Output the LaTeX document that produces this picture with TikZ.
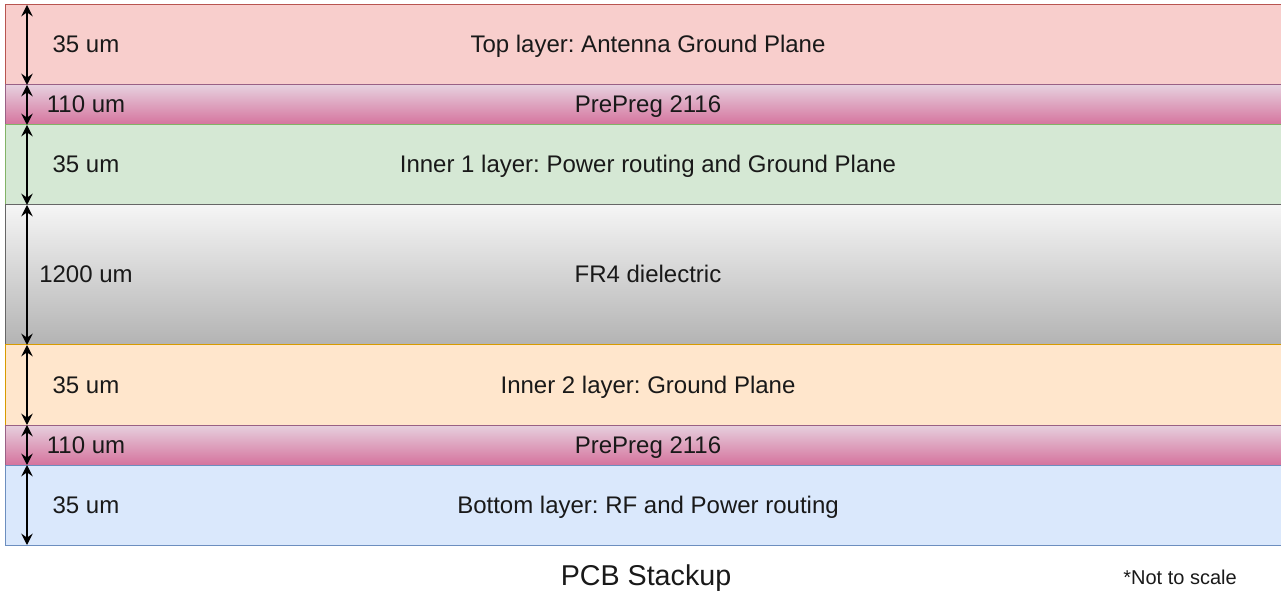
\documentclass[tikz,border=0pt]{standalone}
\usepackage{fontspec}
\setmainfont{Liberation Sans}
\usepackage{tikz}
\usetikzlibrary{arrows.meta,positioning}
\usepackage{xcolor}
\definecolor{cuTopF}{HTML}{F8CECC}
\definecolor{cuTopD}{HTML}{B85450}
\definecolor{ppTop}{HTML}{E6D0DE}
\definecolor{ppBot}{HTML}{D5739D}
\definecolor{ppD}{HTML}{996185}
\definecolor{inOneF}{HTML}{D5E8D4}
\definecolor{inOneD}{HTML}{82B366}
\definecolor{frTop}{HTML}{F5F5F5}
\definecolor{frBot}{HTML}{B3B3B3}
\definecolor{frD}{HTML}{666666}
\definecolor{inTwoF}{HTML}{FFE6CC}
\definecolor{inTwoD}{HTML}{D79B00}
\definecolor{cuBotF}{HTML}{DAE8FC}
\definecolor{cuBotD}{HTML}{6C8EBF}
\frenchspacing

\begin{document}
\begin{tikzpicture}[
    x=0.75pt, y=-0.75pt,
    layer/.style={rectangle, anchor=north west, minimum width=964.5pt,
                  inner sep=0pt, outer sep=0pt, line width=0.75pt,
                  text height=12.9pt, text depth=0.9pt,
                  font=\fontsize{18}{20}\selectfont, text=black!90},
    cutop/.style={fill=cuTopF, draw=cuTopD},
    prepreg/.style={top color=ppTop, bottom color=ppBot, draw=ppD},
    innerone/.style={fill=inOneF, draw=inOneD},
    core/.style={top color=frTop, bottom color=frBot, draw=frD},
    innertwo/.style={fill=inTwoF, draw=inTwoD},
    cubot/.style={fill=cuBotF, draw=cuBotD},
    thk/.style={font=\fontsize{18}{20}\selectfont, text=black!90, inner sep=0pt,
                text height=12.9pt, text depth=0.9pt},
    dim/.style={{Stealth[length=8.5pt,width=8.5pt,inset=3pt]}-{Stealth[length=8.5pt,width=8.5pt,inset=3pt]},
                line width=1.1pt, black},
]
\useasboundingbox (0,0) rectangle (1281,591);

% Stack of layers, top to bottom.
\foreach \nm/\ytop/\hgt/\sty/\lab/\tval in {
  top/5/60/cutop/{Top layer: Antenna Ground Plane}/{35 um},
  ppa/85/30/prepreg/{PrePreg 2116}/{110 um},
  ina/125/60/innerone/{Inner 1 layer: Power routing and Ground Plane}/{35 um},
  fr/205/105/core/{FR4 dielectric}/{1200 um},
  inb/345/60/innertwo/{Inner 2 layer: Ground Plane}/{35 um},
  ppb/425/30/prepreg/{PrePreg 2116}/{110 um},
  bot/465/60/cubot/{Bottom layer: RF and Power routing}/{35 um}} {
  \node[layer, \sty, minimum height=\hgt pt] (\nm) at (5,\ytop) {\lab};
  \node[thk] (\nm-t) at ([xshift=60.75pt]\nm.west) {\tval};
}

% Thickness arrows.
\foreach \nm in {top,ppa,ina,fr,inb,ppb,bot} {
  \draw[dim] ([xshift=16.5pt]\nm.north west) -- ([xshift=16.5pt]\nm.south west);
}

% Caption and note.
\node[font=\fontsize{21.5}{24}\selectfont, text=black!90] (title) at (646,578) {PCB Stackup};
\node[font=\fontsize{15}{17}\selectfont, text=black!90] (note) at (1180,577) {*Not to scale};
\end{tikzpicture}
\end{document}
